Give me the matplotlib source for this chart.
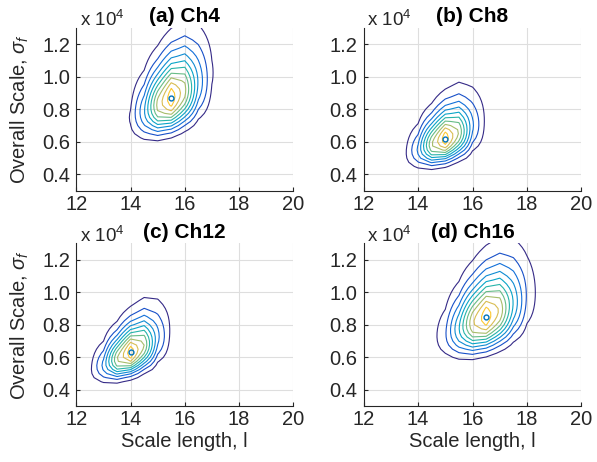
import numpy as np
import matplotlib
matplotlib.use('Agg')
import matplotlib.pyplot as plt
from matplotlib.colors import LinearSegmentedColormap

# 四个通道的似然等高线 (sigma_f 以 1e4 为单位)
titles = ['(a) Ch4', '(b) Ch8', '(c) Ch12', '(d) Ch16']
peak_l = [15.5, 15.0, 14.0, 16.5]        # 峰值处的 scale length
peak_s = [0.87, 0.62, 0.63, 0.85]        # 峰值处的 overall scale
spread_l = [0.70, 0.64, 0.65, 0.80]
spread_s = [0.097, 0.116, 0.113, 0.102]
corr = [0.40, 0.42, 0.50, 0.40]
level_frac = [0.093, 0.186, 0.279, 0.372, 0.465, 0.558, 0.651, 0.744, 0.837, 0.930]

l_ticks = [12, 14, 16, 18, 20]
s_ticks = [0.4, 0.6, 0.8, 1.0, 1.2]

# MATLAB parula 近似
parula = LinearSegmentedColormap.from_list('parula', [
    '#352a87', '#0f5cdd', '#1481d6', '#06a4ca', '#2eb7a4',
    '#87bf77', '#d1bb59', '#fec832', '#f9fb0e'])
line_colors = [parula(v) for v in np.linspace(0, 0.87, len(level_frac))]

txt = (0.15, 0.15, 0.15)
plt.rcParams['font.family'] = ['Liberation Sans', 'DejaVu Sans']
plt.rcParams['mathtext.fontset'] = 'custom'
plt.rcParams['mathtext.rm'] = 'Liberation Sans'
plt.rcParams['mathtext.it'] = 'Liberation Sans:italic'

fig = plt.figure(figsize=(5.97, 4.62), dpi=100)
positions = [[0.128, 0.587, 0.363, 0.353], [0.609, 0.587, 0.365, 0.353],
             [0.128, 0.121, 0.363, 0.352], [0.609, 0.121, 0.365, 0.352]]

# 粗网格, 和原图一样呈折线状
gl = np.arange(11.0, 21.01, 0.5)
gs = np.arange(0.25, 1.6, 0.025)
L, S = np.meshgrid(gl, gs)

for i in range(4):
    ax = fig.add_axes(positions[i])
    u = (L - peak_l[i]) / spread_l[i]
    w = (peak_s[i] ** -0.5 - S ** -0.5) / spread_s[i]
    rho = corr[i]
    Z = np.exp(-(u**2 - 2 * rho * u * w + w**2) / (2 * (1 - rho**2)))
    ax.contour(L, S, Z, levels=level_frac, colors=line_colors, linewidths=0.8)
    ax.plot(peak_l[i], peak_s[i], 'o', mfc='none', mec=(0, 0.447, 0.741),
            ms=3.5, mew=1.0)

    ax.set_xlim(12, 20)
    ax.set_ylim(0.3, 1.3)
    ax.set_xticks(l_ticks)
    ax.set_yticks(s_ticks)
    ax.set_yticklabels(['%.1f' % v for v in s_ticks])
    ax.grid(True, color=(0.87, 0.87, 0.87), linewidth=0.8)
    ax.set_axisbelow(True)
    for side in ['top', 'right']:
        ax.spines[side].set_visible(False)
    for side in ['left', 'bottom']:
        ax.spines[side].set_color(txt)
        ax.spines[side].set_linewidth(0.8)
    ax.tick_params(direction='in', length=3, labelsize=14.5, colors=txt)
    ax.tick_params(axis='x', pad=3)
    ax.tick_params(axis='y', pad=4.5)

    ax.set_title(titles[i], fontsize=15, fontweight='bold', color='black', pad=4)
    ax.text(0.015, 1.01, r'x 10$^4$', transform=ax.transAxes, fontsize=13.5,
            color=txt, ha='left', va='baseline')
    if i % 2 == 0:
        ax.set_ylabel(r'Overall Scale, $\sigma_f$', fontsize=14.5, color=txt)
        ax.yaxis.set_label_coords(-0.21, 0.5)
    if i >= 2:
        ax.set_xlabel('Scale length, l', fontsize=14.5, color=txt, labelpad=2)

fig.savefig('out.png', dpi=100)
